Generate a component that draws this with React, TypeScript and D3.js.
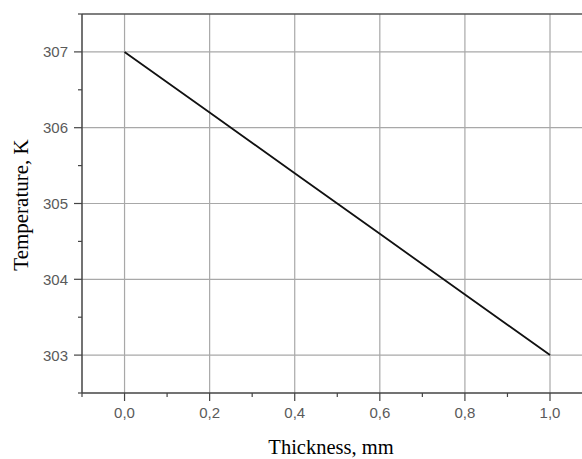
import React from "react";
import * as d3 from "d3";

const thickness = [0, 0.2, 0.4, 0.6, 0.8, 1.0];
const temperature = [307, 306.2, 305.4, 304.6, 303.8, 303];
const xTicks = [0, 0.2, 0.4, 0.6, 0.8, 1.0];
const xMinor = [-0.1, 0.1, 0.3, 0.5, 0.7, 0.9];
const yTicks = [303, 304, 305, 306, 307];
const yMinor = [302.5, 303.5, 304.5, 305.5, 306.5, 307.5];

export default function App() {
  const width = 582,
    height = 459;
  const left = 82,
    right = 582,
    top = 14,
    bottom = 393;

  const x = d3.scaleLinear().domain([-0.1, 1.0]).range([left, 550]);
  const y = d3.scaleLinear().domain([302.5, 307.5]).range([bottom, top]);

  const line = d3
    .line<number>()
    .x((d, i) => x(thickness[i]))
    .y((d) => y(d));

  const tickFont = "Arial, 'Liberation Sans', sans-serif";
  const titleFont = "'Times New Roman', 'Liberation Serif', serif";

  return (
    <svg
      width={width}
      height={height}
      style={{ position: "absolute", left: 0, top: 0, background: "#fff" }}
    >
      {/* grid */}
      {xTicks.map((t) => (
        <line
          key={"gx" + t}
          x1={x(t)}
          x2={x(t)}
          y1={top}
          y2={bottom}
          stroke="#a8a8a8"
          strokeWidth={1.2}
        />
      ))}
      {yTicks.map((t) => (
        <line
          key={"gy" + t}
          x1={left}
          x2={right}
          y1={y(t)}
          y2={y(t)}
          stroke="#a8a8a8"
          strokeWidth={1.2}
        />
      ))}

      {/* axes frame */}
      <line x1={left} x2={right} y1={top} y2={top} stroke="#555" strokeWidth={1.5} />
      <line x1={left} x2={right} y1={bottom} y2={bottom} stroke="#444" strokeWidth={1.5} />
      <line x1={left} x2={left} y1={top} y2={bottom} stroke="#444" strokeWidth={1.5} />

      {/* x ticks */}
      {xTicks.map((t) => (
        <g key={"xt" + t}>
          <line x1={x(t)} x2={x(t)} y1={bottom} y2={bottom + 8} stroke="#444" strokeWidth={1.2} />
          <text
            x={x(t)}
            y={418}
            textAnchor="middle"
            fontFamily={tickFont}
            fontSize={15}
            fill="#5a5a5a"
          >
            {d3.format(".1f")(t).replace(".", ",")}
          </text>
        </g>
      ))}
      {xMinor.map((t) => (
        <line key={"xm" + t} x1={x(t)} x2={x(t)} y1={bottom} y2={bottom + 4} stroke="#444" strokeWidth={1.2} />
      ))}

      {/* y ticks */}
      {yTicks.map((t) => (
        <g key={"yt" + t}>
          <line x1={left - 8} x2={left} y1={y(t)} y2={y(t)} stroke="#444" strokeWidth={1.2} />
          <text
            x={left - 14}
            y={y(t)}
            dy="0.36em"
            textAnchor="end"
            fontFamily={tickFont}
            fontSize={15}
            fill="#5a5a5a"
          >
            {t}
          </text>
        </g>
      ))}
      {yMinor.map((t) => (
        <line key={"ym" + t} x1={left - 4} x2={left} y1={y(t)} y2={y(t)} stroke="#444" strokeWidth={1.2} />
      ))}

      {/* data line */}
      <path d={line(temperature) || ""} fill="none" stroke="#111" strokeWidth={1.8} />

      {/* titles */}
      <text
        x={331}
        y={454}
        textAnchor="middle"
        fontFamily={titleFont}
        fontSize={20.5}
        fill="#000"
      >
        Thickness, mm
      </text>
      <text
        transform={`translate(28,205) rotate(-90)`}
        textAnchor="middle"
        fontFamily={titleFont}
        fontSize={21}
        fill="#000"
      >
        Temperature, K
      </text>
    </svg>
  );
}
